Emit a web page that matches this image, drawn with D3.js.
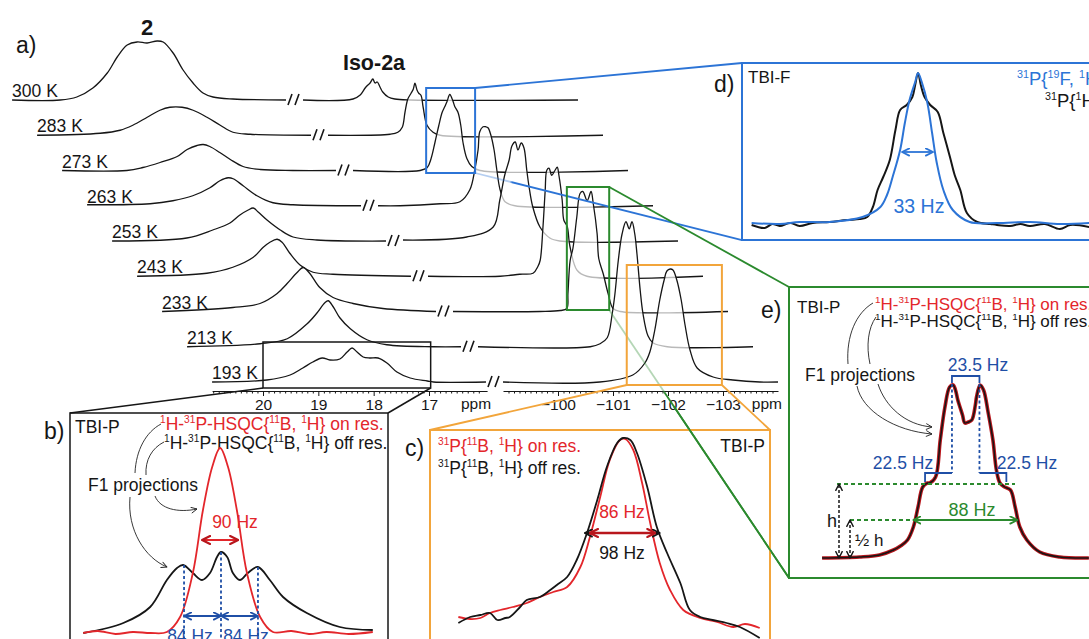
<!DOCTYPE html>
<html><head><meta charset="utf-8">
<script src="https://cdn.jsdelivr.net/npm/d3@7"></script>
<style>
body{margin:0;background:#fff}
svg{display:block}
text{font-family:Arial,"Liberation Sans",Helvetica,sans-serif}
</style>
</head><body>
<svg id="fig" width="1089" height="639"></svg>
<script>
// ---------------- DATA ----------------
const temps = ["300 K","283 K","273 K","263 K","253 K","243 K","233 K","213 K","193 K"];
const leftTicks = [20,19,18,17];
const rightTicks = [-100,-101,-102,-103];

// compound 2 region, [ppm, intensity a.u.]
const left300 = [[20.92,0],[20.05,0],[19.75,3],[19.46,12],[19.20,27],[19.02,43],[18.84,55],[18.66,58],[18.48,57],[18.30,59],[18.19,58],[18.01,47],[17.83,30],[17.65,17],[17.47,7],[17.29,3],[16.93,1],[15.97,0]];
const left283 = [[20.92,0],[19.78,2],[19.42,5],[19.19,10],[18.93,18],[18.70,25],[18.52,28],[18.30,28],[18.10,25],[17.85,18],[17.61,10],[17.38,3],[17.07,1],[15.97,0]];
const left273 = [[20.92,0],[19.75,0],[19.46,3],[19.15,8],[18.84,14],[18.66,21],[18.48,25],[18.37,26],[18.25,24],[18.07,18],[17.88,11],[17.65,4],[17.34,1],[16.75,0],[15.97,0]];
const left263 = [[20.92,1],[19.78,2],[19.37,5],[19.01,10],[18.70,18],[18.52,25],[18.37,28],[18.28,27],[18.10,20],[17.85,10],[17.56,3],[17.20,1],[15.97,0]];
const left253 = [[20.92,0],[19.57,3],[19.10,11],[18.79,18],[18.61,26],[18.46,31],[18.37,33],[18.28,29],[18.12,21],[17.88,11],[17.65,4],[17.22,1],[15.97,0]];
const left243 = [[20.92,0],[19.66,3],[19.19,9],[18.82,19],[18.64,29],[18.52,34],[18.39,37],[18.30,34],[18.16,23],[17.97,11],[17.74,4],[17.38,2],[15.97,0]];
const left233 = [[20.92,0],[19.64,4],[19.15,8],[18.84,18],[18.66,28],[18.48,39],[18.37,44],[18.25,38],[18.07,24],[17.83,14],[17.47,8],[16.93,3],[15.97,0]];
const left213 = [[20.92,0],[19.60,3],[19.11,8],[18.75,23],[18.57,34],[18.43,44],[18.37,46],[18.28,40],[18.16,29],[17.97,18],[17.67,7],[17.31,2],[16.47,0],[15.97,0]];
const left193 = [[20.92,0],[19.93,2],[19.51,7],[19.28,14],[19.10,20],[18.93,24],[18.79,22],[18.61,23],[18.48,30],[18.39,34],[18.30,30],[18.19,25],[18.07,24],[17.92,24],[17.76,19],[17.58,10],[17.34,4],[17.03,1],[16.92,0],[15.97,0]];

// TBI region (-99 .. -104 ppm)
const right300 = [[-99.0,0],[-99.91,1],[-100.04,5],[-100.13,12],[-100.18,15],[-100.22,17],[-100.27,21],[-100.31,17],[-100.35,18],[-100.40,13],[-100.45,8],[-100.55,3],[-100.67,1],[-100.95,0],[-104.0,0]];
const right283 = [[-99.0,0],[-100.13,1],[-100.27,3],[-100.35,8],[-100.40,23],[-100.45,36],[-100.51,42],[-100.55,46],[-100.58,52],[-100.62,45],[-100.65,42],[-100.69,40],[-100.73,28],[-100.80,10],[-100.91,3],[-101.04,0],[-104.0,0]];
const right273 = [[-99.0,0],[-100.22,0],[-100.35,3],[-100.42,12],[-100.49,28],[-100.56,45],[-100.62,58],[-100.67,64],[-100.71,69],[-100.76,76],[-100.82,69],[-100.85,64],[-100.91,58],[-100.96,45],[-101.00,28],[-101.07,12],[-101.16,4],[-101.31,0],[-104.0,0]];
const right263 = [[-99.0,0],[-99.40,0],[-100.13,2],[-100.49,4],[-100.67,16],[-100.76,36],[-100.82,56],[-100.85,74],[-100.91,79],[-100.96,79],[-101.00,78],[-101.05,71],[-101.11,56],[-101.16,36],[-101.22,16],[-101.31,4],[-101.49,0],[-104.0,0]];
const right253 = [[-99.0,1],[-100.16,4],[-100.64,14],[-100.76,41],[-100.85,66],[-100.93,81],[-100.98,95],[-101.04,99],[-101.09,91],[-101.15,98],[-101.20,93],[-101.25,71],[-101.29,55],[-101.36,34],[-101.49,14],[-101.67,3],[-101.85,0],[-104.0,0]];
const right243 = [[-99.0,0],[-100.31,0],[-100.67,2],[-100.91,3],[-101.00,10],[-101.04,16],[-101.09,49],[-101.13,85],[-101.16,106],[-101.20,108],[-101.25,101],[-101.31,106],[-101.35,109],[-101.38,101],[-101.44,76],[-101.47,56],[-101.53,50],[-101.58,30],[-101.71,6],[-101.89,0],[-104.0,0]];
const right233 = [[-99.0,0],[-100.58,0],[-100.95,1],[-101.07,3],[-101.09,18],[-101.13,51],[-101.18,63],[-101.25,94],[-101.31,118],[-101.36,120],[-101.44,111],[-101.51,120],[-101.55,108],[-101.62,78],[-101.65,53],[-101.73,38],[-101.82,18],[-101.91,3],[-102.04,0],[-104.0,0]];
const right213 = [[-99.0,0],[-101.04,0],[-101.22,3],[-101.35,9],[-101.44,33],[-101.49,53],[-101.55,86],[-101.62,113],[-101.69,125],[-101.75,118],[-101.80,125],[-101.85,113],[-101.89,93],[-101.95,56],[-102.00,33],[-102.09,11],[-102.18,4],[-102.44,0],[-104.0,0]];
const right193 = [[-99.0,0],[-100.76,0],[-101.36,7],[-101.58,19],[-101.67,30],[-101.76,52],[-101.85,82],[-101.93,102],[-101.98,111],[-102.04,113],[-102.09,112],[-102.16,102],[-102.24,82],[-102.31,57],[-102.40,32],[-102.53,14],[-102.82,5],[-103.18,2],[-103.67,0],[-104.0,0]];

const leftSpectra = [left300,left283,left273,left263,left253,left243,left233,left213,left193];
const rightSpectra = [right300,right283,right273,right263,right253,right243,right233,right213,right193];

// inset b: F1 projections, [Hz, intensity]
const insetB_on = [[-313,0],[-280,2],[-240,-1],[-200,1],[-160,0],[-123,1],[-93,16],[-64,60],[-41,123],[-20,166],[-2,185],[16,166],[36,123],[59,60],[89,16],[118,1],[160,2],[200,-1],[240,1],[290,-1],[345,1]];
const insetB_off = [[-313,0],[-222,10],[-161,26],[-123,53],[-100,65],[-86,68],[-64,60],[-43,53],[-25,60],[-9,76],[0,81],[14,76],[27,60],[43,53],[61,60],[84,66],[111,53],[141,36],[195,20],[270,6],[345,3]];
const bSplit = [-84,0,84];
const bSplitH = [68,81,66];

// inset c: 31P{11B,1H}
const insetC_on = [[-224,23],[-208,21],[-194,22],[-181,27],[-167,30],[-150,33],[-131,37],[-113,43],[-95,48],[-76,53],[-58,73],[-45,103],[-31,143],[-18,180],[-4,200],[3,201],[14,190],[26,157],[37,117],[50,77],[64,50],[82,30],[105,22],[128,18],[150,13],[166,16],[186,12]];
const insetC_off = [[-224,17],[-208,23],[-194,25],[-181,27],[-171,20],[-160,22],[-154,23],[-140,33],[-131,40],[-113,43],[-99,50],[-90,55],[-76,63],[-63,80],[-49,107],[-35,140],[-22,173],[-8,197],[0,202],[10,200],[19,187],[33,153],[46,113],[60,87],[78,57],[91,30],[105,23],[122,20],[141,17],[159,13],[186,2]];

// inset d: TBI-F
const insetD_FH = [[-177,5],[-147,4],[-126,6],[-94,6],[-59,11],[-40,21],[-33,33],[-27,51],[-19,78],[-14,105],[-9,128],[-3,146],[0,155],[4,146],[10,125],[15,95],[20,65],[27,38],[37,18],[55,6],[84,5],[119,6],[151,4],[182,5]];
const insetD_H = [[-177,3],[-163,0],[-155,4],[-147,2],[-136,5],[-126,2],[-112,5],[-94,6],[-76,8],[-62,9],[-54,11],[-48,21],[-43,38],[-37,51],[-30,68],[-24,98],[-19,118],[-12,123],[-6,131],[-3,143],[0,155],[3,143],[7,131],[13,123],[21,116],[27,95],[34,71],[39,53],[45,38],[52,15],[63,6],[77,4],[84,3],[98,2],[109,4],[119,2],[135,4],[151,-1],[162,3],[182,1]];

// inset e: TBI-P HSQC F1 projection
const insetE = [[-123,0],[-91,1],[-74,3],[-62,8],[-56,12],[-50,18],[-45,31],[-41,51],[-37,71],[-33,75],[-31,75],[-26,81],[-22,118],[-18,151],[-14,171],[-11,173],[-9,168],[-7,158],[-3,143],[-1,135],[2,136],[5,138],[8,153],[9,161],[12,173],[15,168],[19,145],[23,118],[26,88],[29,75],[33,71],[38,68],[42,51],[46,31],[52,18],[63,6],[80,1],[105,0]];

// ---------------- SETUP ----------------
const svg = d3.select("#fig");
const defs = svg.append("defs");
const C = {red:"#e3262b", dred:"#b8161c", blue:"#2c74d6", dblue:"#1f4fa6", green:"#2b8a2e", orange:"#f2a53b", black:"#161616"};
const FS = 17.5;

function marker(id,color,size,sw){
  defs.append("marker").attr("id",id).attr("viewBox","0 0 10 10").attr("refX",9).attr("refY",5)
    .attr("markerWidth",size).attr("markerHeight",size).attr("markerUnits","userSpaceOnUse")
    .attr("orient","auto-start-reverse")
    .append("path").attr("d","M1,1 L9,5 L1,9").attr("fill","none").attr("stroke",color)
    .attr("stroke-width",sw*10/size).attr("stroke-linecap","round").attr("stroke-linejoin","round");
}
marker("mBlk",C.black,8,1.4); marker("mThin","#222",7,0.9); marker("mRed",C.dred,10,2.2);
marker("mBlue",C.dblue,9,1.8); marker("mLBlue",C.blue,9,1.8); marker("mGreen",C.green,9,1.8);
marker("mBlkA",C.black,9,1.8);

function rich(g,x,y,str,size,color,anchor){
  const t=g.append("text").attr("x",x).attr("y",y).attr("font-size",size).attr("fill",color)
    .attr("text-anchor",anchor||"start");
  const re=/\^\{([^}]*)\}/g; let last=0,m; const parts=[];
  while((m=re.exec(str))){ if(m.index>last) parts.push([str.slice(last,m.index),false]); parts.push([m[1],true]); last=re.lastIndex; }
  if(last<str.length) parts.push([str.slice(last),false]);
  let up=false;
  parts.forEach(([s,sup])=>{
    const ts=t.append("tspan").text(s);
    if(sup){ ts.attr("font-size",size*0.58); if(!up){ts.attr("dy",-size*0.4); up=true;} }
    else if(up){ ts.attr("dy",size*0.4); up=false; }
  });
  return t;
}
function label(g,x,y,s,size,color,anchor,weight){
  return g.append("text").attr("x",x).attr("y",y).attr("font-size",size).attr("fill",color||C.black)
    .attr("text-anchor",anchor||"start").attr("font-weight",weight||"normal").text(s);
}
function dArrow(g,x1,y1,x2,y2,color,w,mid,dash,single){
  const l=g.append("line").attr("x1",x1).attr("y1",y1).attr("x2",x2).attr("y2",y2)
    .attr("stroke",color).attr("stroke-width",w).attr("marker-end",`url(#${mid})`);
  if(!single) l.attr("marker-start",`url(#${mid})`);
  if(dash) l.attr("stroke-dasharray",dash);
  return l;
}
function seg(g,x1,y1,x2,y2,color,w,dash){
  const l=g.append("line").attr("x1",x1).attr("y1",y1).attr("x2",x2).attr("y2",y2)
   .attr("stroke",color).attr("stroke-width",w);
  if(dash) l.attr("stroke-dasharray",dash);
  return l;
}

// ---------------- PANEL a ----------------
const N = temps.length;
const xL = d3.scaleLinear().domain([20,17]).range([263,429]);
const xR = d3.scaleLinear().domain([-100,-103]).range([558,723]);
const hI = d3.scaleLinear().domain([0,100]).range([0,100]);
const dx = i => -25*(N-1-i);
const base = i => 382 - 35.25*(N-1-i);
const curve = d3.curveCatmullRom.alpha(0.5);

const gA = svg.append("g");
const gTr = gA.append("g");

function trace(i,data,xs){
  const X=d=>xs(d[0])+dx(i), Y=d=>base(i)-hI(d[1]);
  gTr.append("path").attr("d",d3.area().x(X).y0(base(i)).y1(Y).curve(curve)(data))
    .attr("fill","#fff").attr("fill-opacity",0.7);
  gTr.append("path").attr("d",d3.line().x(X).y(Y).curve(curve)(data))
    .attr("fill","none").attr("stroke",C.black).attr("stroke-width",1.3).attr("stroke-linejoin","round");
}
temps.forEach((t,i)=>{
  trace(i,leftSpectra[i],xL);
  trace(i,rightSpectra[i],xR);
  const bx = xL(15.97)+dx(i)+7, by = base(i);
  gTr.append("path").attr("d",`M${bx-5},${by+5}L${bx-1},${by-6}M${bx+2},${by+5}L${bx+6},${by-6}`)
    .attr("stroke",C.black).attr("stroke-width",1.6).attr("fill","none");
  label(gTr,xL(20.92)+dx(i),base(i)-3,t,FS);
});

label(gA,16,53,"a)",23);
label(gA,147,35,"2",22,C.black,"middle","bold");
label(gA,374,70,"Iso-2a",21.5,C.black,"middle","bold");

// axes
const yAx = 391;
const xLa = d3.scaleLinear().domain([20.92,15.95]).range([xL(20.92),xL(15.95)]);
const xRa = d3.scaleLinear().domain([-99,-104]).range([xR(-99),xR(-104)]);
function axisPair(sc,major,minor){
  const g=gA.append("g").attr("transform",`translate(0,${yAx})`);
  g.call(d3.axisBottom(sc).tickValues(minor).tickSize(2.5).tickSizeOuter(0).tickFormat(""));
  const g2=gA.append("g").attr("transform",`translate(0,${yAx})`);
  g2.call(d3.axisBottom(sc).tickValues(major).tickSize(5).tickSizeOuter(5).tickPadding(3).tickFormat(d3.format("d")));
  [g,g2].forEach(gg=>{gg.selectAll("path,line").attr("stroke",C.black).attr("stroke-width",1);
    gg.selectAll("text").attr("font-size",15.5).attr("fill",C.black).attr("font-family","Arial,'Liberation Sans',sans-serif");});
  g2.select(".domain").remove();
  return g;
}
axisPair(xLa,leftTicks,d3.range(160,210).map(v=>v/10).filter(v=>v%1!==0));
axisPair(xRa,rightTicks,d3.range(-1039,-990).map(v=>v/10).filter(v=>v%1!==0));
label(gA,xLa(15.95)+4,409,"ppm",15.5,C.black,"end");
label(gA,xRa(-104)+4,409,"ppm",15.5,C.black,"end");

// zoom boxes in a
const boxBlk = {x0:xL(20)+dx(8), x1:xL(16.97)+dx(8), y0:base(8)-40, y1:base(8)+6};
const boxBlu = {x0:xR(-100.33)+dx(2), x1:xR(-101.22)+dx(2), y0:base(2)-82.5, y1:base(2)+2.5};
const boxGrn = {x0:xR(-101.07)+dx(6), x1:xR(-101.84)+dx(6), y0:base(6)-124.5, y1:base(6)-1.5};
const boxOrg = {x0:xR(-101.25)+dx(8), x1:xR(-102.98)+dx(8), y0:base(8)-117, y1:base(8)+3};

// inset frames
const inB = {x:70,y:413,w:318,h:300}, inC = {x:430,y:430,w:340,h:260}, inD = {x:742,y:63,w:380,h:177}, inE = {x:789,y:287,w:340,h:291};

// connectors with fading gradient
function fadeLine(id,x1,y1,x2,y2,color,w,frac){
  const gr=defs.append("linearGradient").attr("id",id).attr("gradientUnits","userSpaceOnUse")
    .attr("x1",x1).attr("y1",y1).attr("x2",x2).attr("y2",y2);
  gr.append("stop").attr("offset",0).attr("stop-color",color).attr("stop-opacity",0.35);
  gr.append("stop").attr("offset",frac).attr("stop-color",color).attr("stop-opacity",0.35);
  gr.append("stop").attr("offset",frac+0.01).attr("stop-color",color).attr("stop-opacity",1);
  gr.append("stop").attr("offset",1).attr("stop-color",color).attr("stop-opacity",1);
  gA.append("line").attr("x1",x1).attr("y1",y1).attr("x2",x2).attr("y2",y2+0.01)
    .attr("stroke",`url(#${id})`).attr("stroke-width",w);
}
fadeLine("gBlu1",boxBlu.x1,boxBlu.y1,inD.x,inD.y+inD.h,C.blue,1.8,0.13);
seg(gA,boxBlu.x1,boxBlu.y0,inD.x,inD.y,C.blue,1.8);
fadeLine("gGrn1",boxGrn.x1,boxGrn.y1,inE.x,inE.y+inE.h,C.green,1.8,0.30);
seg(gA,boxGrn.x1,boxGrn.y0,inE.x,inE.y,C.green,1.8);
seg(gA,boxBlk.x0,boxBlk.y1,inB.x,inB.y,C.black,1.5);
seg(gA,boxBlk.x1,boxBlk.y1,inB.x+inB.w,inB.y,C.black,1.5);
seg(gA,boxOrg.x0,boxOrg.y1,inC.x,inC.y,C.orange,1.8);
seg(gA,boxOrg.x1,boxOrg.y1,inC.x+inC.w,inC.y,C.orange,1.8);

function rect(g,b,color,w){
  g.append("rect").attr("x",b.x0).attr("y",b.y0).attr("width",b.x1-b.x0).attr("height",b.y1-b.y0)
    .attr("fill","none").attr("stroke",color).attr("stroke-width",w);
}
rect(gA,boxBlk,C.black,1.5); rect(gA,boxBlu,C.blue,2); rect(gA,boxGrn,C.green,2); rect(gA,boxOrg,C.orange,2);

function frame(b,color,w){
  svg.append("rect").attr("x",b.x).attr("y",b.y).attr("width",b.w).attr("height",b.h)
    .attr("fill","none").attr("stroke",color).attr("stroke-width",w);
}
function spec(g,data,xs,ys,color,w){
  g.append("path").attr("d",d3.line().x(d=>xs(d[0])).y(d=>ys(d[1])).curve(curve)(data))
    .attr("fill","none").attr("stroke",color).attr("stroke-width",w).attr("stroke-linejoin","round");
}
function thin(g,d,arrow){
  const p=g.append("path").attr("d",d).attr("fill","none").attr("stroke","#222").attr("stroke-width",0.9);
  if(arrow) p.attr("marker-end","url(#mThin)");
}

// ---------------- INSET b ----------------
const gB = svg.append("g");
frame(inB,C.black,1.5);
const xb = d3.scaleLinear().domain([-300,300]).range([89,353]);
const yb = d3.scaleLinear().domain([0,185]).range([633,448]);
label(gB,44,439,"b)",23);
label(gB,75,433,"TBI-P",FS);
rich(gB,160,430,"^{1}H-^{31}P-HSQC{^{11}B, ^{1}H} on res.",FS,C.red);
rich(gB,164,449,"^{1}H-^{31}P-HSQC{^{11}B, ^{1}H} off res.",FS,C.black);
label(gB,88,491,"F1 projections",FS);
thin(gB,"M161,424 C146,432 136,450 135,473");
thin(gB,"M164,442 C152,448 145,460 146,475");
thin(gB,"M155,496 C160,509 178,513 197,509",true);
thin(gB,"M130,497 C127,530 145,558 167,567",true);
spec(gB,insetB_off,xb,yb,C.black,1.8);
spec(gB,insetB_on,xb,yb,C.red,1.8);
dArrow(gB,xb(-43),yb(93),xb(39),yb(93),C.red,2,"mRed");
label(gB,235,528,"90 Hz",FS,C.red,"middle");
bSplit.forEach((s,k)=>seg(gB,xb(s),yb(bSplitH[k]),xb(s),641,C.dblue,1.8,"3,2.5"));
dArrow(gB,xb(-84),yb(17),xb(0),yb(17),C.dblue,2,"mBlue");
dArrow(gB,xb(0),yb(17),xb(84),yb(17),C.dblue,2,"mBlue");
label(gB,190,642,"84 Hz",FS,C.dblue,"middle");
label(gB,246,642,"84 Hz",FS,C.dblue,"middle");

// ---------------- INSET c ----------------
const gC = svg.append("g");
frame(inC,C.orange,2);
const xc = d3.scaleLinear().domain([-200,200]).range([476,770]);
const yc = d3.scaleLinear().domain([0,202]).range([640,438]);
label(gC,405,456,"c)",23);
rich(gC,438,452,"^{31}P{^{11}B, ^{1}H} on res.",FS,C.red);
rich(gC,438,474,"^{31}P{^{11}B, ^{1}H} off res.",FS,C.black);
label(gC,765,452,"TBI-P",FS,C.black,"end");
spec(gC,insetC_on,xc,yc,C.red,1.8);
spec(gC,insetC_off,xc,yc,C.black,1.8);
dArrow(gC,xc(-52),yc(107),xc(50),yc(107),C.black,2,"mBlkA");
dArrow(gC,xc(-45),yc(107),xc(44),yc(107),C.dred,2.6,"mRed");
label(gC,622,518,"86 Hz",FS,C.red,"middle");
label(gC,622,559,"98 Hz",FS,C.black,"middle");

// ---------------- INSET d ----------------
const gD = svg.append("g");
frame(inD,C.blue,2);
const xd = d3.scaleLinear().domain([-100,100]).range([824,1012]);
const yd = d3.scaleLinear().domain([0,155]).range([228,73]);
label(gD,714,92,"d)",23);
label(gD,748,83,"TBI-F",17);
rich(gD,1017,85,"^{31}P{^{19}F, ^{1}H}",18.5,C.blue);
rich(gD,1045,107,"^{31}P{^{1}H}",18.5,C.black);
spec(gD,insetD_H,xd,yd,C.black,2);
spec(gD,insetD_FH,xd,yd,C.blue,2);
dArrow(gD,xd(-17),yd(76),xd(16),yd(76),C.blue,1.8,"mLBlue");
label(gD,919,213,"33 Hz",19.5,C.blue,"middle");

// ---------------- INSET e ----------------
const gE = svg.append("g");
frame(inE,C.green,2);
const xe = d3.scaleLinear().domain([-100,100]).range([849,1083]);
const ye = d3.scaleLinear().domain([0,173]).range([558,385]);
label(gE,761,318,"e)",23);
label(gE,797,313,"TBI-P",17);
rich(gE,875,310,"^{1}H-^{31}P-HSQC{^{11}B, ^{1}H} on res.",17,C.red);
rich(gE,875,327,"^{1}H-^{31}P-HSQC{^{11}B, ^{1}H} off res.",17,C.black);
label(gE,805,381,"F1 projections",FS);
thin(gE,"M873,303 C856,313 846,336 848,364");
thin(gE,"M876,317 C868,328 866,346 870,364");
thin(gE,"M857,386 C862,411 895,431 932,434",true);
thin(gE,"M878,384 C885,406 905,425 932,427",true);
spec(gE,insetE,xe,ye,C.dred,3.6);
spec(gE,insetE,xe,ye,C.black,1.5);
// blue splittings
const e1=xe(-12), e2=xe(11.5), e0=xe(-35), e3=xe(34.5);
gE.append("path").attr("d",`M${e1},383 V376 H${e2} V383`).attr("fill","none").attr("stroke",C.dblue).attr("stroke-width",1.8);
seg(gE,e1,384,e1,473,C.dblue,1.8,"3,2.5"); seg(gE,e2,384,e2,473,C.dblue,1.8,"3,2.5");
gE.append("path").attr("d",`M${e0},482 V473 H${e1}`).attr("fill","none").attr("stroke",C.dblue).attr("stroke-width",1.8);
gE.append("path").attr("d",`M${e2},473 H${e3} V482`).attr("fill","none").attr("stroke",C.dblue).attr("stroke-width",1.8);
label(gE,978,371,"23.5 Hz",FS,C.dblue,"middle");
label(gE,903,469,"22.5 Hz",FS,C.dblue,"middle");
label(gE,1027,469,"22.5 Hz",FS,C.dblue,"middle");
// green widths
seg(gE,837,ye(74),1015,ye(74),C.green,1.8,"4,3");
seg(gE,850,ye(38),xe(-45),ye(38),C.green,1.8,"4,3");
dArrow(gE,xe(-45),ye(38),xe(44),ye(38),C.green,1.8,"mGreen");
label(gE,972,516,"88 Hz",18,C.green,"middle");
// h arrows
dArrow(gE,839,ye(0),839,ye(74),C.black,1.5,"mBlk","3,2");
dArrow(gE,850,ye(0),850,ye(38),C.black,1.5,"mBlk","3,2");
label(gE,827,527,"h",18);
label(gE,855,546,"½ h",17);

// green connector over inset c
seg(svg,boxGrn.x1+ (inE.x-boxGrn.x1)*0.36, boxGrn.y1+(inE.y+inE.h-boxGrn.y1)*0.36, inE.x, inE.y+inE.h, C.green, 1.8);
</script>
</body></html>
